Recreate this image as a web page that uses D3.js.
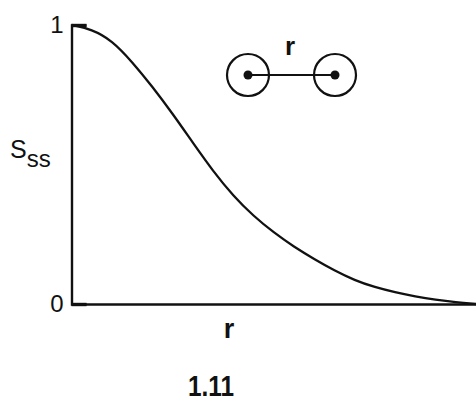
<!DOCTYPE html>
<html>
<head>
<meta charset="utf-8">
<script src="https://cdn.jsdelivr.net/npm/d3@7"></script>
<style>
  html, body { margin: 0; padding: 0; background: #fff; }
  svg { display: block; }
  text { font-family: "Liberation Sans", Arial, sans-serif; fill: #111; }
</style>
</head>
<body>
<svg id="chart" width="476" height="402"></svg>
<script>
// Site-site overlap S_ss as a function of separation r
const rValues = [0, 0.25, 0.5, 0.75, 1, 1.25, 1.5, 1.75, 2, 2.25, 2.5, 2.75,
                 3, 3.25, 3.5, 3.75, 4, 4.25, 4.5, 4.75, 5];
const sValues = [1.0, 0.985, 0.945, 0.868, 0.779, 0.682, 0.578, 0.476, 0.387, 0.315,
                 0.256, 0.205, 0.161, 0.12, 0.085, 0.06, 0.042, 0.027, 0.015, 0.006, 0.0];
const yTicks = [0, 1];
const yTickLabels = ["0", "1"];
const xLabel = "r";
const yLabel = "S";
const yLabelSub = "ss";
const caption = "1.11";
const moleculeLabel = "r";

const svg = d3.select("#chart");
const ink = "#111";

const x = d3.scaleLinear().domain([0, 5]).range([71.5, 476]);
const y = d3.scaleLinear().domain([0, 1]).range([304, 25]);

// y axis with short inward ticks
const yAxis = d3.axisLeft(y)
  .tickValues(yTicks)
  .tickFormat((d, i) => yTickLabels[i])
  .tickSize(-15)
  .tickPadding(8);
const gy = svg.append("g").attr("transform", `translate(${x(0)},0)`).call(yAxis);
gy.select(".domain").attr("stroke", ink).attr("stroke-width", 2.4);
gy.selectAll(".tick line").attr("stroke", ink).attr("stroke-width", 3.4);
gy.selectAll(".tick text")
  .attr("font-size", 24)
  .style("font-family", "'Liberation Sans', Arial, sans-serif")
  .attr("fill", ink);

// x axis: a bare baseline
const xAxis = d3.axisBottom(x).tickValues([]).tickSizeOuter(0);
const gx = svg.append("g").attr("transform", `translate(0,${y(0)})`).call(xAxis);
gx.select(".domain").attr("stroke", ink).attr("stroke-width", 2.4);

// overlap curve, smoothed through the sampled values
const line = d3.line()
  .x((d, i) => x(rValues[i]))
  .y(d => y(d))
  .curve(d3.curveBasis);
svg.append("path")
  .datum(sValues)
  .attr("d", line)
  .attr("fill", "none")
  .attr("stroke", ink)
  .attr("stroke-width", 2.3);

// axis titles
const yt = svg.append("text")
  .attr("x", 10)
  .attr("y", 158)
  .attr("font-size", 25);
yt.append("tspan").text(yLabel);
yt.append("tspan").attr("dy", 9).attr("font-size", 24).text(yLabelSub);

svg.append("text")
  .attr("x", 229)
  .attr("y", 338)
  .attr("text-anchor", "middle")
  .attr("font-size", 27)
  .attr("font-weight", "bold")
  .text(xLabel);

svg.append("text")
  .attr("x", 211)
  .attr("y", 396)
  .attr("text-anchor", "middle")
  .attr("font-size", 29)
  .attr("font-weight", "bold")
  .attr("textLength", 46)
  .attr("lengthAdjust", "spacingAndGlyphs")
  .text(caption);

// diatomic sketch: two sites joined by a bond of length r
const mol = svg.append("g");
const sites = [248, 335];
const siteY = 75;
mol.append("line")
  .attr("x1", sites[0]).attr("x2", sites[1])
  .attr("y1", siteY).attr("y2", siteY)
  .attr("stroke", ink).attr("stroke-width", 2);
mol.selectAll("circle.site")
  .data(sites)
  .join("circle")
  .attr("class", "site")
  .attr("cx", d => d).attr("cy", siteY).attr("r", 21)
  .attr("fill", "none").attr("stroke", ink).attr("stroke-width", 2.2);
mol.selectAll("circle.nucleus")
  .data(sites)
  .join("circle")
  .attr("class", "nucleus")
  .attr("cx", d => d).attr("cy", siteY).attr("r", 4.5)
  .attr("fill", ink);
mol.append("text")
  .attr("x", 290)
  .attr("y", 55)
  .attr("text-anchor", "middle")
  .attr("font-size", 26)
  .attr("font-weight", "bold")
  .text(moleculeLabel);
</script>
</body>
</html>
